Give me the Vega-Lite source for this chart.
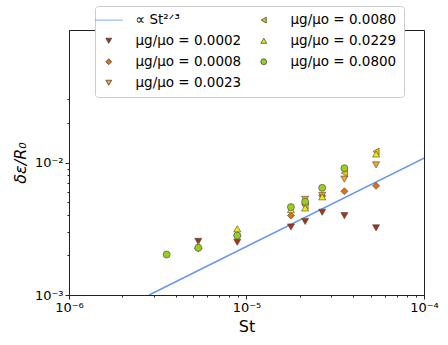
{
  "$schema": "https://vega.github.io/schema/vega-lite/v6.json",
  "width": 355,
  "height": 265,
  "autosize": {"type": "none"},
  "padding": {"left": 69, "top": 30, "right": 24, "bottom": 50},
  "config": {
    "font": "DejaVu Sans",
    "view": {"stroke": "#222", "strokeWidth": 1},
    "axis": {
      "grid": false,
      "domainColor": "#222",
      "tickColor": "#222",
      "labelColor": "#000",
      "titleColor": "#000",
      "labelFont": "DejaVu Sans",
      "titleFont": "DejaVu Sans",
      "labelFontSize": 13,
      "titleFontSize": 16,
      "titleFontWeight": "normal"
    },
    "legend": {
      "title": null,
      "orient": "none",
      "legendX": 26,
      "legendY": -24,
      "columns": 2,
      "columnPadding": 15,
      "rowPadding": 6,
      "labelFontSize": 13.5,
      "labelFont": "DejaVu Sans",
      "labelColor": "#000",
      "labelOffset": 20,
      "labelLimit": 250,
      "symbolSize": 34,
      "symbolStrokeWidth": 0.8,
      "fillColor": "white",
      "strokeColor": "#cccccc",
      "cornerRadius": 3,
      "padding": 7
    }
  },
  "datasets": {
    "pts": [
      {"St": 5.35e-6, "y": 0.00254, "series": "μg/μo = 0.0002"},
      {"St": 8.87e-6, "y": 0.00250, "series": "μg/μo = 0.0002"},
      {"St": 1.78e-5, "y": 0.00326, "series": "μg/μo = 0.0002"},
      {"St": 2.14e-5, "y": 0.00359, "series": "μg/μo = 0.0002"},
      {"St": 2.67e-5, "y": 0.00421, "series": "μg/μo = 0.0002"},
      {"St": 3.56e-5, "y": 0.00397, "series": "μg/μo = 0.0002"},
      {"St": 5.37e-5, "y": 0.00321, "series": "μg/μo = 0.0002"},
      {"St": 5.35e-6, "y": 0.00225, "series": "μg/μo = 0.0008"},
      {"St": 8.87e-6, "y": 0.00281, "series": "μg/μo = 0.0008"},
      {"St": 1.78e-5, "y": 0.00398, "series": "μg/μo = 0.0008"},
      {"St": 2.14e-5, "y": 0.00485, "series": "μg/μo = 0.0008"},
      {"St": 2.67e-5, "y": 0.00562, "series": "μg/μo = 0.0008"},
      {"St": 3.56e-5, "y": 0.00607, "series": "μg/μo = 0.0008"},
      {"St": 5.37e-5, "y": 0.00667, "series": "μg/μo = 0.0008"},
      {"St": 2.14e-5, "y": 0.00527, "series": "μg/μo = 0.0023"},
      {"St": 2.67e-5, "y": 0.00565, "series": "μg/μo = 0.0023"},
      {"St": 3.56e-5, "y": 0.00749, "series": "μg/μo = 0.0023"},
      {"St": 5.37e-5, "y": 0.0096, "series": "μg/μo = 0.0023"},
      {"St": 2.14e-5, "y": 0.00474, "series": "μg/μo = 0.0080"},
      {"St": 3.56e-5, "y": 0.00833, "series": "μg/μo = 0.0080"},
      {"St": 5.37e-5, "y": 0.0121, "series": "μg/μo = 0.0080"},
      {"St": 5.35e-6, "y": 0.00237, "series": "μg/μo = 0.0229"},
      {"St": 8.87e-6, "y": 0.00316, "series": "μg/μo = 0.0229"},
      {"St": 1.78e-5, "y": 0.00441, "series": "μg/μo = 0.0229"},
      {"St": 2.14e-5, "y": 0.00454, "series": "μg/μo = 0.0229"},
      {"St": 2.67e-5, "y": 0.00551, "series": "μg/μo = 0.0229"},
      {"St": 5.37e-5, "y": 0.0116, "series": "μg/μo = 0.0229"},
      {"St": 3.55e-6, "y": 0.00202, "series": "μg/μo = 0.0800"},
      {"St": 5.35e-6, "y": 0.00227, "series": "μg/μo = 0.0800"},
      {"St": 8.87e-6, "y": 0.00281, "series": "μg/μo = 0.0800"},
      {"St": 1.78e-5, "y": 0.00461, "series": "μg/μo = 0.0800"},
      {"St": 2.14e-5, "y": 0.00506, "series": "μg/μo = 0.0800"},
      {"St": 2.67e-5, "y": 0.00644, "series": "μg/μo = 0.0800"},
      {"St": 3.56e-5, "y": 0.00905, "series": "μg/μo = 0.0800"}
    ],
    "fit": [
      {"St": 2.828e-6, "y": 0.001},
      {"St": 1e-4, "y": 0.01077}
    ]
  },
  "layer": [
    {
      "data": {"name": "fit"},
      "mark": {"type": "line", "color": "#6495ED", "strokeWidth": 1.5, "clip": true},
      "encoding": {
        "x": {
          "field": "St", "type": "quantitative",
          "scale": {"type": "log", "domain": [1e-6, 1e-4]},
          "axis": {
            "title": "St",
            "values": [1e-6, 2e-6, 3e-6, 4e-6, 5e-6, 6e-6, 7e-6, 8e-6, 9e-6, 1e-5, 2e-5, 3e-5, 4e-5, 5e-5, 6e-5, 7e-5, 8e-5, 9e-5, 1e-4],
            "labelExpr": "datum.value == 1e-6 ? '10⁻⁶' : datum.value == 1e-5 ? '10⁻⁵' : datum.value == 1e-4 ? '10⁻⁴' : ''",
            "tickSize": {"condition": {"test": "datum.value == 1e-6 || datum.value == 1e-5 || datum.value == 1e-4", "value": 4}, "value": 2},
            "labelFlush": false,
            "labelOverlap": false,
            "titlePadding": 4
          }
        },
        "y": {
          "field": "y", "type": "quantitative",
          "scale": {"type": "log", "domain": [0.001, 0.03]},
          "axis": {
            "title": "δε/R₀",
            "titleFontStyle": "italic",
            "values": [0.001, 0.002, 0.003, 0.004, 0.005, 0.006, 0.007, 0.008, 0.009, 0.01, 0.02, 0.03],
            "labelExpr": "datum.value == 0.001 ? '10⁻³' : datum.value == 0.01 ? '10⁻²' : ''",
            "tickSize": {"condition": {"test": "datum.value == 0.001 || datum.value == 0.01", "value": 4}, "value": 2},
            "labelFlush": false,
            "labelOverlap": false,
            "titlePadding": 6
          }
        }
      }
    },
    {
      "data": {"name": "pts"},
      "mark": {"type": "point", "filled": true, "size": 50, "strokeWidth": 0.6, "opacity": 1},
      "encoding": {
        "x": {"field": "St", "type": "quantitative"},
        "y": {"field": "y", "type": "quantitative"},
        "color": {
          "field": "series", "type": "nominal",
          "scale": {
            "domain": ["∝ St²ᐟ³", "μg/μo = 0.0002", "μg/μo = 0.0008", "μg/μo = 0.0023", "μg/μo = 0.0080", "μg/μo = 0.0229", "μg/μo = 0.0800"],
            "range": ["#6495ED", "#A8330C", "#E3700E", "#F5A623", "#F0C010", "#F2EC00", "#9CCC1E"]
          },
          "legend": {"title": null, "labelFontSize": 13.5}
        },
        "shape": {
          "field": "series", "type": "nominal",
          "scale": {
            "domain": ["∝ St²ᐟ³", "μg/μo = 0.0002", "μg/μo = 0.0008", "μg/μo = 0.0023", "μg/μo = 0.0080", "μg/μo = 0.0229", "μg/μo = 0.0800"],
            "range": ["M-4.8,0H4.8", "triangle-down", "diamond", "triangle-down", "triangle-left", "triangle-up", "circle"]
          },
          "legend": {"title": null, "labelFontSize": 13.5}
        },
        "stroke": {
          "field": "series", "type": "nominal",
          "scale": {
            "domain": ["∝ St²ᐟ³", "μg/μo = 0.0002", "μg/μo = 0.0008", "μg/μo = 0.0023", "μg/μo = 0.0080", "μg/μo = 0.0229", "μg/μo = 0.0800"],
            "range": ["#6495ED", "#444444", "#444444", "#444444", "#444444", "#444444", "#444444"]
          },
          "legend": {"title": null, "labelFontSize": 13.5}
        }
      }
    }
  ]
}
